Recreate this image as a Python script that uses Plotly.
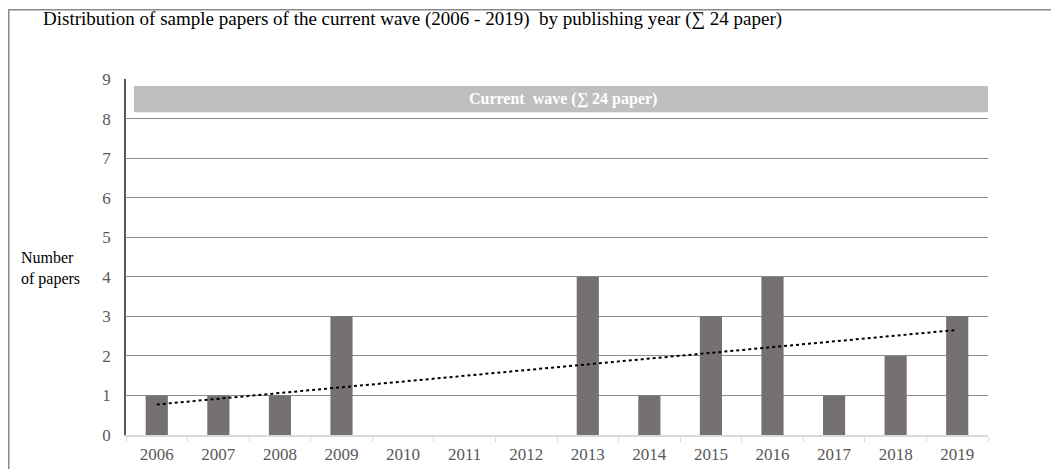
import numpy as np
import plotly.graph_objects as go

years = ["2006", "2007", "2008", "2009", "2010", "2011", "2012",
         "2013", "2014", "2015", "2016", "2017", "2018", "2019"]
papers = [1, 1, 1, 3, 0, 0, 0, 4, 1, 3, 4, 1, 2, 3]
y_ticks = [0, 1, 2, 3, 4, 5, 6, 7, 8, 9]
title_text = "Distribution of sample papers of the current wave (2006 - 2019)  by publishing year (\u2211 24 paper)"
banner_text = "Current  wave (\u2211 24 paper)"
y_label = "Number<br>of papers"

idx = np.arange(1, len(papers) + 1)
slope, intercept = np.polyfit(idx, papers, 1)
trend = slope * idx + intercept

font = "Liberation Serif"

fig = go.Figure()
fig.add_trace(go.Bar(
    x=years, y=papers, width=0.36,
    marker=dict(color="#767171", line=dict(width=0)),
    showlegend=False, hoverinfo="x+y",
))
fig.add_trace(go.Scatter(
    x=years, y=trend, mode="lines",
    line=dict(color="#000000", width=2, dash="dot"),
    showlegend=False, hoverinfo="skip",
))

# page body has an 8px margin, so the figure origin sits at (8, 8) of the window
OFF = 8
W, H = 1059 - OFF, 469 - OFF
ml, mr, mt, mb = 126 - OFF, 71, 79 - OFF, 34
pw, ph = W - ml - mr, H - mt - mb

def px(x):
    return (x - OFF - ml) / pw

def py(y):
    return (H - mb - (y - OFF)) / ph

shapes = [
    dict(type="rect", xref="x", yref="y", x0=-0.37, x1=13.5, y0=8.16, y1=8.82,
         fillcolor="#bfbfbf", line=dict(width=0), layer="above"),
    dict(type="line", xref="paper", yref="paper", x0=px(8.75), x1=px(8.75), y0=py(9), y1=py(480),
         line=dict(color="#8a8a8a", width=1.5)),
    dict(type="line", xref="paper", yref="paper", x0=px(8), x1=px(1070), y0=py(9.75), y1=py(9.75),
         line=dict(color="#8a8a8a", width=1.5)),
]

annotations = [
    dict(text=banner_text, xref="x", yref="y", x=6.6, y=8.49, showarrow=False,
         font=dict(family=font, size=16, color="#ffffff", weight="bold")),
    dict(text=title_text, xref="paper", yref="paper", x=px(41), y=py(19), xanchor="left",
         yanchor="middle", showarrow=False, font=dict(family=font, size=19, color="#000000")),
    dict(text=y_label, xref="paper", yref="paper", x=px(19), y=py(268), xanchor="left",
         yanchor="middle", align="left", showarrow=False,
         font=dict(family=font, size=16, color="#000000")),
]

fig.update_layout(
    width=W, height=H,
    margin=dict(l=ml, r=mr, t=mt, b=mb),
    paper_bgcolor="#ffffff", plot_bgcolor="#ffffff",
    font=dict(family=font, size=17, color="#595959"),
    shapes=shapes, annotations=annotations,
    xaxis=dict(
        type="category", range=[-0.5, 13.5], automargin=False,
        showgrid=False, showline=True, linecolor="#d9d9d9", linewidth=1.5,
        ticks="outside", tickson="boundaries", ticklen=5, tickcolor="#d9d9d9",
        ticklabelstandoff=3,
        tickfont=dict(family=font, size=17, color="#595959"),
        zeroline=False,
    ),
    yaxis=dict(
        range=[0, 9], tickvals=y_ticks, automargin=False,
        showgrid=True, gridcolor="#8c8c8c", gridwidth=1,
        showline=True, linecolor="#595959", linewidth=1.5,
        zeroline=False, ticks="", ticklabelstandoff=10,
        tickfont=dict(family=font, size=17, color="#595959"),
    ),
)

fig.write_html("out.html")
